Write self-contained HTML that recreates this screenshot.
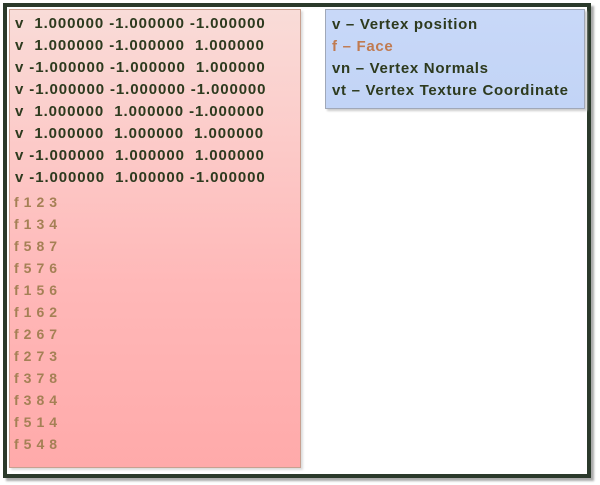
<!DOCTYPE html>
<html><head><style>
body{margin:0;width:600px;height:485px;background:#fff;position:relative;overflow:hidden;font-family:"Liberation Sans",sans-serif}
.frame{position:absolute;left:3px;top:3px;width:580px;height:467px;border:4px solid #2b3a2b;box-shadow:3px 3px 2px #aaa}
.pink{position:absolute;left:9px;top:9px;width:290px;height:457px;background:linear-gradient(#f9dcd8,#ffb8b8 60%,#ffaaaa);border:1px solid #c8a090;box-shadow:2px 2px 2px #ddd}
.blue{position:absolute;left:325px;top:9px;width:258px;height:98px;background:linear-gradient(#c8d8f8,#c2d4f6);border:1px solid #a0a8b8;box-shadow:2px 2px 2px #ccc}
.l{position:absolute;font-weight:bold;font-size:15px;letter-spacing:0.9px;white-space:pre;color:#2d3a1e}
.b{letter-spacing:0.7px}
.f{color:#a58055;letter-spacing:5px;font-size:14px}
</style></head><body>
<div class="frame"></div>
<div class="pink"></div>
<div class="blue"></div>
<div class="l" style="left:15px;top:15px">v  1.000000 -1.000000 -1.000000</div>
<div class="l" style="left:15px;top:37px">v  1.000000 -1.000000  1.000000</div>
<div class="l" style="left:15px;top:59px">v -1.000000 -1.000000  1.000000</div>
<div class="l" style="left:15px;top:81px">v -1.000000 -1.000000 -1.000000</div>
<div class="l" style="left:15px;top:103px">v  1.000000  1.000000 -1.000000</div>
<div class="l" style="left:15px;top:125px">v  1.000000  1.000000  1.000000</div>
<div class="l" style="left:15px;top:147px">v -1.000000  1.000000  1.000000</div>
<div class="l" style="left:15px;top:169px">v -1.000000  1.000000 -1.000000</div>
<div class="l f" style="left:14px;top:194px">f123</div>
<div class="l f" style="left:14px;top:216px">f134</div>
<div class="l f" style="left:14px;top:238px">f587</div>
<div class="l f" style="left:14px;top:260px">f576</div>
<div class="l f" style="left:14px;top:282px">f156</div>
<div class="l f" style="left:14px;top:304px">f162</div>
<div class="l f" style="left:14px;top:326px">f267</div>
<div class="l f" style="left:14px;top:348px">f273</div>
<div class="l f" style="left:14px;top:370px">f378</div>
<div class="l f" style="left:14px;top:392px">f384</div>
<div class="l f" style="left:14px;top:414px">f514</div>
<div class="l f" style="left:14px;top:436px">f548</div>
<div class="l b" style="left:332px;top:16px">v – Vertex position</div>
<div class="l b" style="left:332px;top:38px;color:#c07a50">f – Face</div>
<div class="l b" style="left:332px;top:60px">vn – Vertex Normals</div>
<div class="l b" style="left:332px;top:82px">vt – Vertex Texture Coordinate</div>
</body></html>
